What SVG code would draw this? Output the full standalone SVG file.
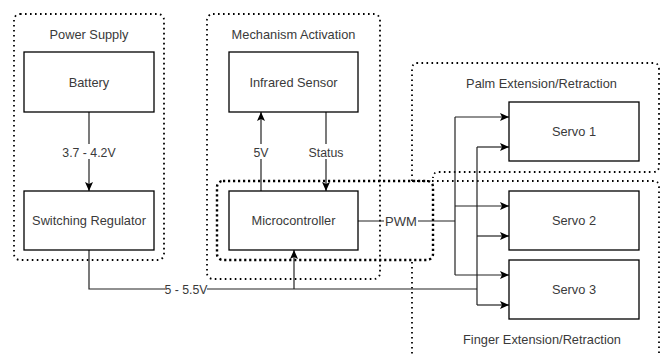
<svg xmlns="http://www.w3.org/2000/svg" width="662" height="356" viewBox="0 0 662 356">
<defs>
<style>
.grp{fill:none;stroke:#000;stroke-width:1.8;stroke-dasharray:1.6 3.4}
.grpb{fill:none;stroke:#000;stroke-width:2.4;stroke-dasharray:2.2 2.8}
.box{fill:#fff;stroke:#000;stroke-width:1.3}
.t{font-family:"Liberation Sans",Arial,sans-serif;font-size:12.8px;fill:#3a3a3a;text-anchor:middle}
.e{font-family:"Liberation Sans",Arial,sans-serif;font-size:12.3px;fill:#3a3a3a;text-anchor:middle}
.ln{fill:none;stroke:#222;stroke-width:1.2}
.bg{fill:#fff}
</style>
<marker id="arr" markerUnits="userSpaceOnUse" markerWidth="10" markerHeight="10" refX="9" refY="4" orient="auto">
<path d="M0,0 L9,4 L0,8 L2,4 z" fill="#000"/>
</marker>
</defs>
<g id="power-supply">
<rect class="grp" x="14" y="14" width="150" height="246" rx="6"/>
<text class="t" x="89" y="38.5">Power Supply</text>
</g>
<g id="mechanism-activation">
<rect class="grp" x="207" y="14" width="173" height="265" rx="6"/>
<text class="t" x="293.5" y="38.5">Mechanism Activation</text>
</g>
<g id="palm-group">
<path class="grp" d="M412,181 V69 Q412,63 418,63 H653 Q659,63 659,69 V166 Q659,172 653,172 H439 Q433,172 433,178"/>
<text class="t" x="541.5" y="87.5">Palm Extension/Retraction</text>
</g>
<g id="finger-group">
<path class="grp" d="M412,262 V381 M412,181 H653 Q659,181 659,187 V381"/>
<text class="t" x="542" y="343.5">Finger Extension/Retraction</text>
</g>
<g id="mcu-group">
<rect class="grpb" x="217" y="181" width="216" height="79" rx="6"/>
</g>
<g id="connectors">
<line class="ln" x1="89" y1="112" x2="89" y2="191" marker-end="url(#arr)"/>
<line class="ln" x1="261" y1="191" x2="261" y2="112" marker-end="url(#arr)"/>
<line class="ln" x1="326" y1="112" x2="326" y2="191" marker-end="url(#arr)"/>
<polyline class="ln" points="358,221 455,221"/>
<line class="ln" x1="455" y1="117" x2="455" y2="275"/>
<line class="ln" x1="455" y1="117" x2="509" y2="117" marker-end="url(#arr)"/>
<line class="ln" x1="455" y1="206" x2="509" y2="206" marker-end="url(#arr)"/>
<line class="ln" x1="455" y1="275" x2="509" y2="275" marker-end="url(#arr)"/>
<polyline class="ln" points="89,250 89,289 477,289"/>
<line class="ln" x1="294" y1="289" x2="294" y2="250" marker-end="url(#arr)"/>
<line class="ln" x1="477" y1="147" x2="477" y2="305"/>
<line class="ln" x1="477" y1="147" x2="509" y2="147" marker-end="url(#arr)"/>
<line class="ln" x1="477" y1="236" x2="509" y2="236" marker-end="url(#arr)"/>
<line class="ln" x1="477" y1="305" x2="509" y2="305" marker-end="url(#arr)"/>
<rect class="bg" x="60" y="144" width="58" height="15"/>
<text class="e" x="89" y="156.5">3.7 - 4.2V</text>
<rect class="bg" x="253" y="144" width="16" height="15"/>
<text class="e" x="261" y="156.5">5V</text>
<rect class="bg" x="308" y="144" width="36" height="15"/>
<text class="e" x="326" y="156.5">Status</text>
<rect class="bg" x="384" y="214" width="34" height="15"/>
<text class="e" x="401" y="225.5" style="font-size:13px">PWM</text>
<rect class="bg" x="165" y="282" width="42" height="15"/>
<text class="e" x="186" y="293.5">5 - 5.5V</text>
</g>
<g id="battery">
<rect class="box" x="24" y="52" width="130" height="60"/>
<text class="t" x="89" y="86.5">Battery</text>
</g>
<g id="switching-regulator">
<rect class="box" x="24" y="191" width="130" height="59"/>
<text class="t" x="89" y="225">Switching Regulator</text>
</g>
<g id="infrared-sensor">
<rect class="box" x="229" y="52" width="129" height="60"/>
<text class="t" x="293.5" y="86.5">Infrared Sensor</text>
</g>
<g id="microcontroller">
<rect class="box" x="229" y="191" width="129" height="59"/>
<text class="t" x="293.5" y="225">Microcontroller</text>
</g>
<g id="servo-1">
<rect class="box" x="509" y="102" width="130" height="59"/>
<text class="t" x="574" y="136">Servo 1</text>
</g>
<g id="servo-2">
<rect class="box" x="509" y="191" width="130" height="59"/>
<text class="t" x="574" y="225">Servo 2</text>
</g>
<g id="servo-3">
<rect class="box" x="509" y="260" width="130" height="59"/>
<text class="t" x="574" y="294">Servo 3</text>
</g>
</svg>
